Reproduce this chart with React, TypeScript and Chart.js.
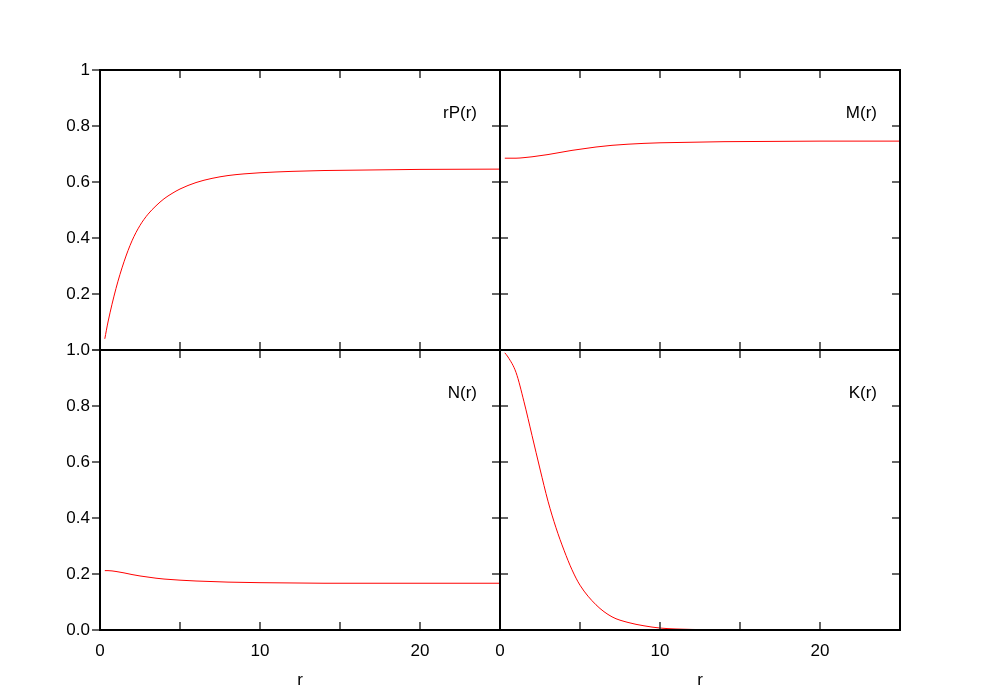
import React, { useEffect, useRef } from "react";
import { Chart, registerables } from "chart.js";

Chart.register(...registerables);

// radial coordinate r (shared by all four curves)
const R = [0.3, 0.5, 1, 1.5, 2, 2.5, 3, 3.5, 4, 4.5, 5, 6, 7, 8, 9, 10, 12, 14, 17, 20, 25];

// rP(r)
const RP = [0.04, 0.1, 0.22, 0.315, 0.39, 0.445, 0.485, 0.515, 0.54, 0.559, 0.575, 0.598, 0.613, 0.623, 0.629, 0.633, 0.638, 0.641, 0.643, 0.645, 0.646];
// M(r)
const M = [0.685, 0.685, 0.685, 0.687, 0.69, 0.694, 0.698, 0.703, 0.708, 0.713, 0.717, 0.725, 0.731, 0.735, 0.738, 0.74, 0.742, 0.744, 0.745, 0.746, 0.746];
// N(r)
const N = [0.212, 0.212, 0.209, 0.204, 0.198, 0.193, 0.189, 0.185, 0.182, 0.18, 0.178, 0.175, 0.173, 0.171, 0.17, 0.169, 0.168, 0.167, 0.167, 0.167, 0.167];
// K(r)
const K = [0.99, 0.975, 0.92, 0.815, 0.695, 0.575, 0.46, 0.365, 0.285, 0.215, 0.16, 0.09, 0.047, 0.027, 0.015, 0.007, 0.002, 0.0005, 0, 0, 0];

const X_TICKS = [0, 5, 10, 15, 20, 25];
const Y_TICKS = [0, 0.2, 0.4, 0.6, 0.8, 1];
const X_TITLE = "r";

const FONT_FAMILY = '"Liberation Sans", Arial, Helvetica, sans-serif';
const FONT_SIZE = 17;

type PanelProps = {
  values: number[];
  label: string;
  col: 0 | 1;
  row: 0 | 1;
};

const framePlugin = {
  id: "frame",
  afterDatasetsDraw(chart: any, _args: any, opts: any) {
    const { ctx, chartArea, scales } = chart;
    const { left, right, top, bottom } = chartArea;
    const x = scales.x;
    const y = scales.y;
    const TL = 8;
    ctx.save();
    ctx.strokeStyle = "#333";
    ctx.lineWidth = 1.5;
    ctx.beginPath();
    X_TICKS.forEach((v) => {
      const px = Math.round(x.getPixelForValue(v));
      ctx.moveTo(px, top);
      ctx.lineTo(px, top + TL);
      ctx.moveTo(px, bottom);
      ctx.lineTo(px, bottom - TL);
    });
    Y_TICKS.forEach((v) => {
      const py = Math.round(y.getPixelForValue(v));
      if (opts.leftOut) {
        ctx.moveTo(left - TL, py);
        ctx.lineTo(left, py);
      } else {
        ctx.moveTo(left, py);
        ctx.lineTo(left + TL, py);
      }
      ctx.moveTo(right, py);
      ctx.lineTo(right - TL, py);
    });
    ctx.stroke();

    ctx.strokeStyle = "#000";
    ctx.lineWidth = 2;
    ctx.strokeRect(left, top, right - left, bottom - top);

    ctx.fillStyle = "#000";
    ctx.font = `${FONT_SIZE}px ${FONT_FAMILY}`;
    ctx.textAlign = "right";
    ctx.textBaseline = "middle";
    ctx.fillText(opts.text, right - 23, top + 43);
    ctx.restore();
  },
};

function Panel({ values, label, col, row }: PanelProps) {
  const ref = useRef<HTMLCanvasElement | null>(null);

  useEffect(() => {
    if (!ref.current) return;
    const isLeft = col === 0;
    const isBottom = row === 1;
    const font = { family: FONT_FAMILY, size: FONT_SIZE };
    const padding = {
      left: isLeft ? 0 : 500,
      right: isLeft ? 500 : 100,
      top: isBottom ? 350 : 70,
      bottom: isBottom ? 0 : 350,
    };
    const chart = new Chart(ref.current, {
      type: "line",
      data: {
        datasets: [
          {
            data: R.map((r, i) => ({ x: r, y: values[i] })),
            borderColor: "#ff0000",
            borderWidth: 1,
            pointRadius: 0,
            fill: false,
            cubicInterpolationMode: "monotone",
          },
        ],
      },
      options: {
        responsive: false,
        animation: false,
        events: [],
        layout: { padding },
        plugins: {
          legend: { display: false },
          tooltip: { enabled: false },
          frame: { text: label, leftOut: isLeft },
        } as any,
        scales: {
          x: {
            type: "linear",
            min: 0,
            max: 25,
            display: isBottom,
            grid: { display: false, drawTicks: false },
            border: { display: false },
            ticks: {
              stepSize: 5,
              autoSkip: false,
              maxRotation: 0,
              padding: 11,
              color: "#000",
              font,
              callback: (v: any) => (Number(v) % 10 === 0 ? String(v) : ""),
            },
            title: {
              display: true,
              text: X_TITLE,
              color: "#000",
              font,
              padding: { top: 0, bottom: 9 },
            },
            afterFit: (s: any) => {
              s.height = isBottom ? 70 : 0;
            },
          },
          y: {
            type: "linear",
            min: 0,
            max: 1,
            display: isLeft,
            grid: { display: false, drawTicks: false },
            border: { display: false },
            ticks: {
              stepSize: 0.2,
              padding: 10,
              color: "#000",
              font,
              callback: (v: any) => {
                const n = Math.round(Number(v) * 10) / 10;
                if (!isBottom) {
                  if (n === 0) return "";
                  if (n === 1) return "1";
                }
                return n.toFixed(1);
              },
            },
            afterFit: (s: any) => {
              s.width = isLeft ? 100 : 0;
            },
          },
        },
      } as any,
      plugins: [framePlugin],
    });
    return () => chart.destroy();
  }, [values, label, col, row]);

  return (
    <canvas
      ref={ref}
      width={1000}
      height={700}
      style={{ position: "absolute", left: 0, top: 0, width: 1000, height: 700 }}
    />
  );
}

export default function App() {
  return (
    <div
      style={{
        position: "absolute",
        left: 0,
        top: 0,
        width: 1000,
        height: 700,
        background: "#fff",
      }}
    >
      <Panel values={RP} label="rP(r)" col={0} row={0} />
      <Panel values={M} label="M(r)" col={1} row={0} />
      <Panel values={N} label="N(r)" col={0} row={1} />
      <Panel values={K} label="K(r)" col={1} row={1} />
    </div>
  );
}
